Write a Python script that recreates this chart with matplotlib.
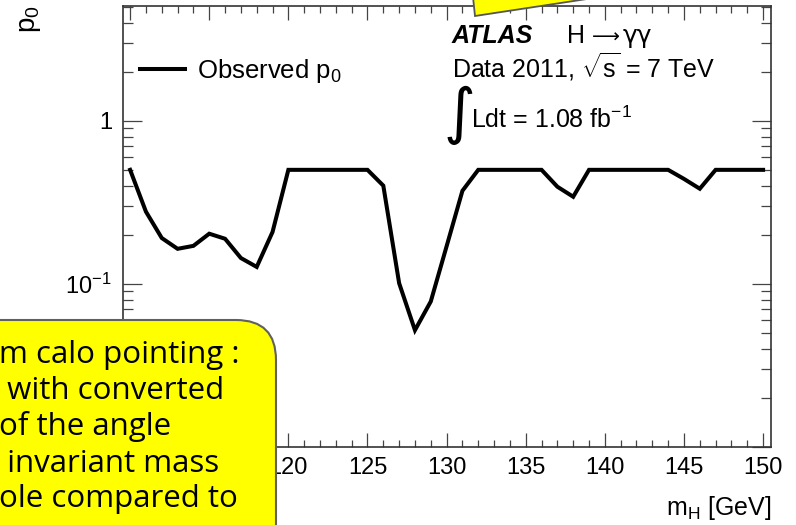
import matplotlib
matplotlib.use("Agg")
import matplotlib.pyplot as plt
from matplotlib.ticker import FixedLocator, LogLocator, FuncFormatter, NullFormatter
from matplotlib.patches import FancyBboxPatch, Polygon
from matplotlib.transforms import Affine2D

# Observed local p0 versus Higgs mass hypothesis
mass_gev = [110, 111, 112, 113, 114, 115, 116, 117, 118, 119,
            120, 121, 122, 123, 124, 125, 126, 127, 128, 129,
            130, 131, 132, 133, 134, 135, 136, 137, 138, 139,
            140, 141, 142, 143, 144, 145, 146, 147, 148, 149, 150]
p0_observed = [0.5, 0.277, 0.191, 0.164, 0.171, 0.203, 0.189, 0.144, 0.127, 0.208,
               0.5, 0.5, 0.5, 0.5, 0.5, 0.5, 0.40, 0.101, 0.052, 0.078,
               0.17, 0.372, 0.5, 0.5, 0.5, 0.5, 0.5, 0.394, 0.342, 0.5,
               0.5, 0.5, 0.5, 0.5, 0.5, 0.44, 0.383, 0.5, 0.5, 0.5, 0.5]

x_major_ticks = [110, 115, 120, 125, 130, 135, 140, 145, 150]
x_tick_labels = {120: "120", 125: "125", 130: "130", 135: "135",
                 140: "140", 145: "145", 150: "150"}
y_tick_labels = {1.0: "1", 0.1: "10$^{-1}$"}

callout_lines = ["m calo pointing :", " with converted", "of the angle",
                 " invariant mass", "ole compared to"]

W, H, DPI = 796, 525, 100
plt.rcParams["font.family"] = ["Liberation Sans", "DejaVu Sans"]
plt.rcParams["mathtext.fontset"] = "custom"
plt.rcParams["mathtext.rm"] = "Liberation Sans"
plt.rcParams["mathtext.it"] = "Liberation Sans:italic"
plt.rcParams["mathtext.bf"] = "Liberation Sans:bold"
plt.rcParams["axes.unicode_minus"] = False

fig = plt.figure(figsize=(W / DPI, H / DPI), dpi=DPI)
fig.patch.set_facecolor("white")

# pixel coordinates measured from the top-left corner
pix = Affine2D().scale(1, -1).translate(0, H)


def fx(x):
    return x / W


def fy(y):
    return 1 - y / H


ax = fig.add_axes([fx(123), fy(447), (771 - 123) / W, (447 - 6) / H])
ax.plot(mass_gev, p0_observed, color="black", lw=2.9, solid_joinstyle="miter",
        label="Observed p$_0$", zorder=3)
ax.set_yscale("log")
ax.set_xlim(109.55, 150.5)
ax.set_ylim(0.01, 5.05)

ax.xaxis.set_major_locator(FixedLocator(x_major_ticks))
ax.xaxis.set_major_formatter(FuncFormatter(lambda v, p: x_tick_labels.get(int(round(v)), "")))
ax.xaxis.set_minor_locator(FixedLocator([m for m in range(110, 151) if m % 5]))
ax.yaxis.set_major_locator(FixedLocator([0.01, 0.1, 1.0]))
ax.yaxis.set_major_formatter(FuncFormatter(lambda v, p: y_tick_labels.get(round(v, 4), "")))
ax.yaxis.set_minor_locator(LogLocator(base=10, subs=[2, 3, 4, 5, 6, 7, 8, 9]))
ax.yaxis.set_minor_formatter(NullFormatter())

for s in ax.spines.values():
    s.set_color("#333333")
    s.set_linewidth(1.2)
ax.tick_params(which="both", direction="in", top=True, right=True, color="#444444",
               width=0.9, labelsize=17)
ax.tick_params(axis="x", which="major", length=10, pad=7)
ax.tick_params(axis="x", which="minor", length=5)
ax.tick_params(axis="y", which="major", length=14, pad=8)
ax.tick_params(axis="y", which="minor", length=7)

ax.set_xlabel("m$_\\mathrm{H}$ [GeV]", fontsize=18, ha="right", va="center")
ax.xaxis.set_label_coords(1.0, -(508 - 447) / 441)
fig.text(fx(17), fy(5), "p$_0$", rotation=90, fontsize=20, ha="left", va="top")

leg = ax.legend(loc="center left", bbox_to_anchor=(fx(140), fy(71)),
                bbox_transform=fig.transFigure, frameon=False, fontsize=18.5,
                handlelength=1.75, handletextpad=0.45, borderpad=0, borderaxespad=0)

# experiment label block
fig.text(fx(452), fy(43), "ATLAS", fontsize=18, fontweight="bold", fontstyle="italic",
         va="baseline")
fig.text(fx(567), fy(43), "H", fontsize=18, va="baseline")
fig.text(fx(592), fy(43), "\u27f6", fontsize=14, family="DejaVu Sans", va="baseline")
fig.text(fx(623), fy(43), "\u03b3\u03b3", fontsize=18, family="DejaVu Sans", va="baseline")
fig.text(fx(452), fy(77), "Data 2011, $\\sqrt{\\mathrm{s}}$ = 7 TeV", fontsize=18,
         va="baseline")
fig.text(fx(444), fy(115), "\u222b", fontsize=44, family="DejaVu Sans", va="center")
fig.text(fx(471), fy(128), "Ldt = 1.08 fb$^{-1}$", fontsize=18, va="baseline")

# overlaid callouts
top_tip = Polygon([(473, -3), (475, 16), (600, -3)], closed=True, transform=pix,
                  facecolor="#FFFF00", edgecolor="#555555", lw=1.3, zorder=20)
fig.add_artist(top_tip)

box = FancyBboxPatch((-60, 320), 336, 300, boxstyle="round,pad=0,rounding_size=40",
                     transform=pix, facecolor="#FFFF00", edgecolor="#606060",
                     lw=1.5, zorder=20)
fig.add_artist(box)

baselines = [363, 399, 435, 472, 507]
for line, b in zip(callout_lines, baselines):
    fig.text(-1, b, line, transform=pix, fontsize=22.5, family="Open Sans",
             va="baseline", ha="left", zorder=21, color="black")

fig.savefig("out.png", dpi=DPI)
